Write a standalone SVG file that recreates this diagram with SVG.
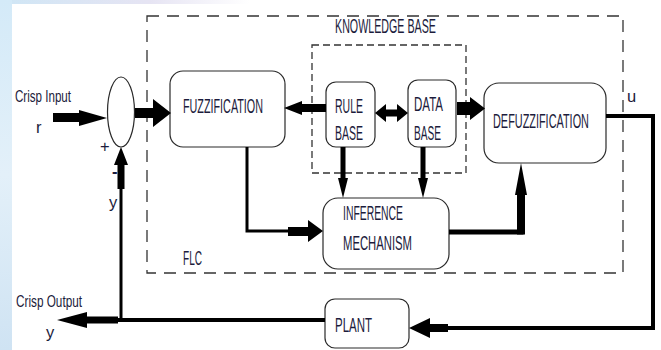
<svg xmlns="http://www.w3.org/2000/svg" width="661" height="350" viewBox="0 0 661 350">
<defs>
<linearGradient id="topband" x1="0" y1="0" x2="1" y2="0">
<stop offset="0" stop-color="#cfe6f5"/>
<stop offset="0.6" stop-color="#e6e4f3"/>
<stop offset="1" stop-color="#ffffff"/>
</linearGradient>
<linearGradient id="leftband" x1="0" y1="0" x2="0" y2="1">
<stop offset="0" stop-color="#d4eaf8"/>
<stop offset="0.5" stop-color="#e3f0f9"/>
<stop offset="1" stop-color="#cfe3f3"/>
</linearGradient>
</defs>
<style>
.box{fill:#ffffff;stroke:#2a2a2a;stroke-width:1.2}
.t{font-family:"Liberation Sans",Arial,sans-serif;font-size:21px;fill:#1c1c3c}
.s{font-family:"Liberation Sans",Arial,sans-serif;font-size:16.5px;fill:#1c1c3c}
.dashO{fill:none;stroke:#333333;stroke-width:1.3;stroke-dasharray:12 8}
.dashI{fill:none;stroke:#333333;stroke-width:1.3;stroke-dasharray:7 4}
.ln{fill:none;stroke:#000000;stroke-linejoin:miter}
.ah{fill:#000000;stroke:none}
</style>
<rect x="0" y="0" width="661" height="350" fill="#ffffff"/>
<rect x="0" y="0" width="250" height="4" fill="url(#topband)"/>
<rect x="0" y="0" width="12" height="350" fill="url(#leftband)"/>

<g id="flc-boundary">
<rect class="dashO" x="147" y="16" width="476" height="257"/>
<text class="t" transform="translate(183,265) scale(0.55,1)" textLength="34.5" lengthAdjust="spacingAndGlyphs">FLC</text>
</g>
<g id="knowledge-base">
<rect class="dashI" x="312" y="45" width="154" height="128"/>
<text class="t" transform="translate(335,33) scale(0.55,1)" textLength="183.6" lengthAdjust="spacingAndGlyphs">KNOWLEDGE BASE</text>
</g>

<g id="summing-junction">
<ellipse cx="121" cy="112" rx="13.5" ry="35" fill="#ffffff" stroke="#2a2a2a" stroke-width="1.2"/>
<text class="s" x="100" y="152">+</text>
<text class="s" x="112" y="177" style="font-weight:bold">-</text>
</g>

<g id="fuzzification">
<rect class="box" x="170" y="71" width="115" height="76" rx="13"/>
<text class="t" transform="translate(183,113) scale(0.55,1)" textLength="145.5" lengthAdjust="spacingAndGlyphs">FUZZIFICATION</text>
</g>
<g id="rule-base">
<rect class="box" x="326" y="82" width="49" height="65" rx="10"/>
<text class="t" transform="translate(335,113) scale(0.55,1)" textLength="50.9" lengthAdjust="spacingAndGlyphs">RULE</text>
<text class="t" transform="translate(335,140) scale(0.55,1)" textLength="50.9" lengthAdjust="spacingAndGlyphs">BASE</text>
</g>
<g id="data-base">
<rect class="box" x="408" y="80" width="48" height="67" rx="10"/>
<text class="t" transform="translate(414,111) scale(0.55,1)" textLength="52.7" lengthAdjust="spacingAndGlyphs">DATA</text>
<text class="t" transform="translate(414,140) scale(0.55,1)" textLength="49.1" lengthAdjust="spacingAndGlyphs">BASE</text>
</g>
<g id="defuzzification">
<rect class="box" x="484" y="83" width="122" height="80" rx="15"/>
<text class="t" transform="translate(493,128) scale(0.55,1)" textLength="174.5" lengthAdjust="spacingAndGlyphs">DEFUZZIFICATION</text>
</g>
<g id="inference">
<rect class="box" x="323" y="198" width="126" height="71" rx="15"/>
<text class="t" transform="translate(343,220) scale(0.55,1)" textLength="109.1" lengthAdjust="spacingAndGlyphs">INFERENCE</text>
<text class="t" transform="translate(343,250) scale(0.55,1)" textLength="125.5" lengthAdjust="spacingAndGlyphs">MECHANISM</text>
</g>
<g id="plant">
<rect class="box" x="325" y="299" width="84" height="49" rx="10"/>
<text class="t" transform="translate(335,332) scale(0.55,1)" textLength="67.3" lengthAdjust="spacingAndGlyphs">PLANT</text>
</g>

<g id="labels">
<text class="s" x="15" y="102" textLength="56" lengthAdjust="spacingAndGlyphs">Crisp Input</text>
<text class="s" x="36" y="133">r</text>
<text class="s" x="16" y="307" textLength="66" lengthAdjust="spacingAndGlyphs">Crisp Output</text>
<text class="s" x="46" y="338">y</text>
<text class="s" x="109" y="208">y</text>
<text class="s" x="627" y="102">u</text>
</g>

<g id="connectors">
<!-- input r to junction -->
<polygon class="ah" points="53,113 79,113 79,110 107,118 79,126 79,122 53,122"/>
<!-- junction to fuzzification -->
<polygon class="ah" points="135,108 153,108 153,99 171,113 153,127 153,118 135,118"/>
<!-- rule base to fuzzification -->
<polygon class="ah" points="326,104 302,104 302,101 284,108 302,115 302,112 326,112"/>
<!-- rule base <-> data base -->
<polygon class="ah" points="375,113 386,104 386,109.5 397,109.5 397,104 408,113 397,122 397,116.5 386,116.5 386,122"/>
<!-- data base to defuzzification -->
<polygon class="ah" points="457,102 470,102 470,97 485,108.5 470,120 470,115 457,115"/>
<!-- rule base to inference -->
<polygon class="ah" points="340.5,147 345.5,147 345.5,178 348,178 343,198 338,178 340.5,178"/>
<!-- data base to inference -->
<polygon class="ah" points="420.5,147 425.5,147 425.5,178 428,178 423,198 418,178 420.5,178"/>
<!-- fuzzification to inference -->
<polyline class="ln" stroke-width="3" points="247,147 247,231 292,231"/>
<polygon class="ah" points="288,227 308,227 308,220 323,231 308,242 308,236 288,236"/>
<!-- inference to defuzzification -->
<polyline class="ln" stroke-width="5" points="449,232 521,232 521,200"/>
<polygon class="ah" points="517,234.5 517,195 515,195 521,163 527,195 525,195 525,234.5"/>
<!-- defuzzification output u to plant -->
<polyline class="ln" stroke-width="4" points="606,116 653,116 653,328 446,328"/>
<polygon class="ah" points="448,324 430,324 430,318 409,328 430,338 430,332 448,332"/>
<!-- plant to crisp output -->
<polyline class="ln" stroke-width="4" points="325,320 116,320"/>
<polygon class="ah" points="118,316.5 87,316.5 87,312 57,320 87,328 87,323.5 118,323.5"/>
<!-- feedback y to junction -->
<polyline class="ln" stroke-width="3" points="121,321.5 121,186"/>
<polygon class="ah" points="117.5,189 117.5,165 114,165 121,147 128,165 124.5,165 124.5,189"/>
</g>
</svg>
